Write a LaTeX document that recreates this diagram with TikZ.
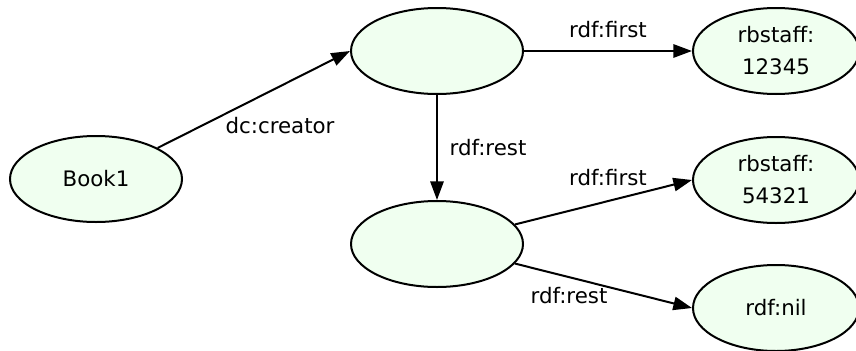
\documentclass[tikz,border=0pt]{standalone}
\usepackage{fontspec}
\setmainfont{DejaVu Sans}
\usetikzlibrary{arrows.meta,shapes.geometric}
\definecolor{rdfFill}{HTML}{F0FFF0}

\begin{document}
\begin{tikzpicture}[
  x=0.75pt, y=-0.75pt,
  font=\fontsize{16pt}{24pt}\selectfont,
  res/.style={ellipse, draw=black, line width=1.5pt, fill=rdfFill,
              align=center, inner sep=0pt,
              minimum width=129pt, minimum height=64.5pt},
  blank/.style={res},
  arr/.style={-{Triangle[length=14pt, width=10pt]}, line width=1.5pt, black},
  lab/.style={inner sep=1pt}
]
  \useasboundingbox (0,0) rectangle (856,350);

  \node[res] (book) at (96,179) {Book1};
  \node[blank] (bn1) at (437,51) {};
  \node[blank] (bn2) at (437,244) {};
  \node[res, minimum width=124.5pt] (staffa) at (776,51) {rbstaff:\\12345};
  \node[res, minimum width=124.5pt] (staffb) at (776,180) {rbstaff:\\54321};
  \node[res, minimum width=124.5pt] (nil) at (776,308) {rdf:nil};

  \draw[arr] (book) -- (bn1.west);
  \draw[arr] (bn1) -- (staffa);
  \draw[arr] (bn1) -- (bn2);
  \draw[arr] (bn2) -- (staffb.west);
  \draw[arr] (bn2) -- (nil.west);

  \node[lab] (creator) at (280,126) {dc:creator};
  \node[lab] (firsta) at (608,30) {rdf:first};
  \node[lab] (resta) at (488,148) {rdf:rest};
  \node[lab] (firstb) at (608,178) {rdf:first};
  \node[lab] (restb) at (569,296) {rdf:rest};
\end{tikzpicture}
\end{document}
